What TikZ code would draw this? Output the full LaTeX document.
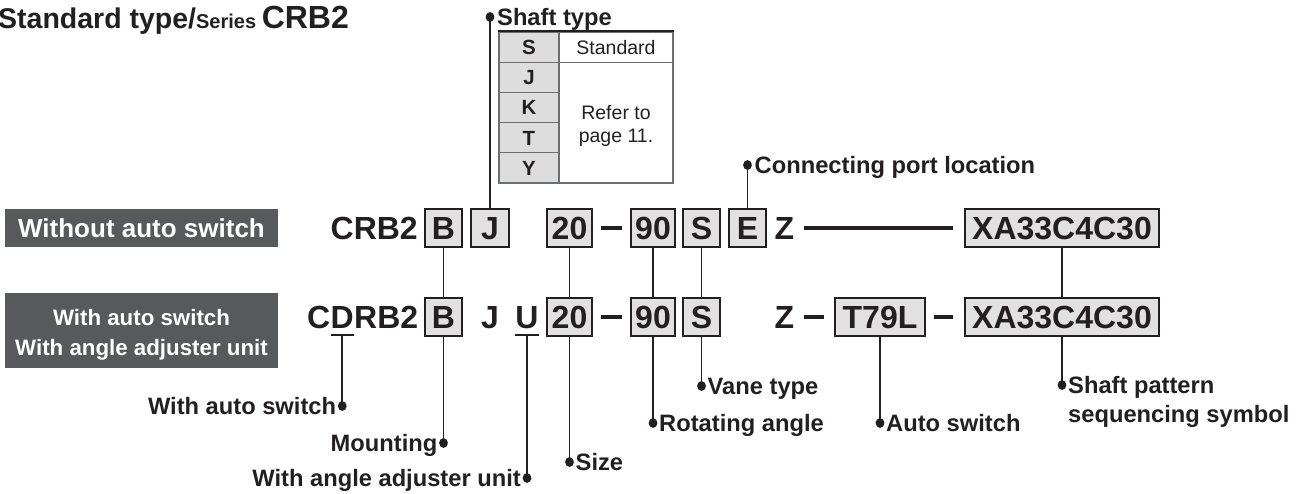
\documentclass[tikz,border=0pt]{standalone}
\usepackage{fontspec}
\setmainfont{Liberation Sans}
\definecolor{ink}{HTML}{231F20}
\definecolor{darkbox}{HTML}{58595B}
\definecolor{boxfill}{HTML}{E1E1E1}
\definecolor{tabfill}{HTML}{DDDDDD}
\definecolor{tabline}{HTML}{6D6E70}
\begin{document}
\begin{tikzpicture}[x=1pt,y=-1pt,
  code/.style={font=\fontsize{32}{36}\selectfont\bfseries, text=ink, inner sep=0pt, text height=23pt, text depth=0pt},
  cbox/.style={code, draw=ink, line width=1.6pt, fill=boxfill, minimum height=37.5pt},
  conn/.style={draw=ink, line width=1.9pt},
  bar/.style={draw=ink, line width=3.2pt},
  lab/.style={font=\fontsize{23.7}{29}\selectfont\bfseries, text=ink, inner sep=0pt, text height=17pt, text depth=0pt},
  labtwo/.style={font=\fontsize{23.7}{29}\selectfont\bfseries, text=ink, inner sep=0pt, align=left},
  tleft/.style={draw=tabline, fill=tabfill, line width=1.3pt, minimum width=60pt, minimum height=30.2pt, inner sep=0pt, font=\fontsize{20.5}{24}\selectfont\bfseries, text=ink, text height=14.7pt, text depth=0pt},
  tright/.style={draw=tabline, line width=1.3pt, minimum width=114pt, inner sep=0pt, font=\fontsize{19.5}{22}\selectfont, text=ink},
  darklab/.style={fill=darkbox, minimum width=273pt, inner sep=0pt, text=white},
  dotmark/.style={fill=ink}
]
\useasboundingbox (0,0) rectangle (1303,494);

% title
\node[anchor=base west, inner sep=0pt, text=ink, font=\bfseries] (title) at (-2,29)
  {\fontsize{28.5}{33}\selectfont Standard type/\fontsize{20}{24}\selectfont Series \fontsize{32}{36}\selectfont CRB2};

% dark labels
\node[darklab, minimum height=38pt, font=\fontsize{26}{30}\selectfont\bfseries, text height=18.6pt, text depth=0pt] (wo) at (141.5,228) {Without auto switch};
\node[darklab, minimum height=75pt, font=\fontsize{22.3}{30}\selectfont\bfseries, align=center] (wi) at (141.5,330.5) {\rule{0pt}{24pt}With auto switch\\With angle adjuster unit};

% shaft type table
\node[tleft] (tS) at (529,47.1) {S};
\node[tleft] (tJ) at (529,77.3) {J};
\node[tleft] (tK) at (529,107.5) {K};
\node[tleft] (tT) at (529,137.7) {T};
\node[tleft] (tY) at (529,167.9) {Y};
\node[tright, minimum height=30.2pt] (tStd) at (616,47.1) {Standard};
\node[tright, minimum height=120.8pt, align=center] (tRef) at (616,122.6) {\rule{0pt}{20pt}Refer to\\[1pt]page 11.};
\draw[ink, line width=1.9pt] (tS.north west) -- (tStd.north east);

% row 1
\node[code, anchor=east] (crb) at (418,228) {CRB2};
\node[cbox, minimum width=37pt] (b1) at (443.5,228) {B};
\node[cbox, minimum width=38pt] (j1) at (490,228) {J};
\node[cbox, minimum width=45pt] (n20a) at (569.5,228) {20};
\node[cbox, minimum width=44pt] (n90a) at (653,228) {90};
\node[cbox, minimum width=37pt] (sa) at (701.5,228) {S};
\node[cbox, minimum width=37pt] (ea) at (747.5,228) {E};
\node[code] (za) at (784.5,228) {Z};
\node[cbox, minimum width=194pt] (xa) at (1062,228) {XA33C4C30};
\draw[bar, shorten <=8pt, shorten >=8pt] (n20a) -- (n90a);
\draw[bar, shorten <=10pt, shorten >=11pt] (za) -- (xa);

% row 2
\node[code, anchor=west] (c2) at (307,317) {C};
\node[code, anchor=west] (d2) at (c2.east) {D};
\node[code, anchor=west] (rb2) at (d2.east) {RB2};
\node[cbox, minimum width=37pt] (b2) at (443.5,317) {B};
\node[code] (j2) at (490,317) {J};
\node[code] (u2) at (527,317) {U};
\node[cbox, minimum width=45pt] (n20b) at (569.5,317) {20};
\node[cbox, minimum width=44pt] (n90b) at (653,317) {90};
\node[cbox, minimum width=37pt] (sb) at (701.5,317) {S};
\node[code] (zb) at (784.5,317) {Z};
\node[cbox, minimum width=90pt] (t79) at (880,317) {T79L};
\node[cbox, minimum width=194pt] (xb) at (1062,317) {XA33C4C30};
\draw[bar, shorten <=8pt, shorten >=8pt] (n20b) -- (n90b);
\draw[bar, shorten <=10pt, shorten >=10pt] (zb) -- (t79);
\draw[bar, shorten <=8pt, shorten >=11pt] (t79) -- (xb);

% row connectors
\draw[conn] (b1) -- (b2);
\draw[conn] (n20a) -- (n20b);
\draw[conn] (n90a) -- (n90b);
\draw[conn] (sa) -- (sb);
\draw[conn] (xa) -- (xb);

% underlines
\draw[conn] ([yshift=-6.5pt]d2.south west) -- ([yshift=-6.5pt]d2.south east);
\draw[conn] ([yshift=-6.5pt]u2.south west) -- ([yshift=-6.5pt]u2.south east);

% leader points
\coordinate (pJ) at (j1 |- 0,17);
\coordinate (pE) at (ea |- 0,165);
\coordinate (pD) at (d2 |- 0,406);
\coordinate (pB) at (b2 |- 0,443);
\coordinate (pU) at (u2 |- 0,478);
\coordinate (p20) at (n20b |- 0,462);
\coordinate (p90) at (n90b |- 0,423);
\coordinate (pS) at (sb |- 0,386);
\coordinate (pT) at (t79 |- 0,423);
\coordinate (pX) at (xb |- 0,385);

\draw[conn] (j1) -- (pJ);
\draw[conn] (ea) -- (pE);
\draw[conn] ([yshift=-6.5pt]d2.south) -- (pD);
\draw[conn] (b2) -- (pB);
\draw[conn] ([yshift=-6.5pt]u2.south) -- (pU);
\draw[conn] (n20b) -- (p20);
\draw[conn] (n90b) -- (p90);
\draw[conn] (sb) -- (pS);
\draw[conn] (t79) -- (pT);
\draw[conn] (xb) -- (pX);

\foreach \p in {pJ,pE,pD,pB,pU,p20,p90,pS,pT,pX} \fill[dotmark] (\p) ellipse (4.4pt and 4.9pt);

% labels
\node[lab, anchor=west] (lJ) at ([xshift=7pt]pJ) {Shaft type};
\node[lab, anchor=west] (lE) at ([xshift=7pt]pE) {Connecting port location};
\node[lab, anchor=east] (lD) at ([xshift=-6pt]pD) {With auto switch};
\node[lab, anchor=east] (lB) at ([xshift=-6pt]pB) {Mounting};
\node[lab, anchor=east] (lU) at ([xshift=-6pt]pU) {With angle adjuster unit};
\node[lab, anchor=west] (l20) at ([xshift=6pt]p20) {Size};
\node[lab, anchor=west] (l90) at ([xshift=6pt]p90) {Rotating angle};
\node[lab, anchor=west] (lS) at ([xshift=6pt]pS) {Vane type};
\node[lab, anchor=west] (lT) at ([xshift=6pt]pT) {Auto switch};
\node[labtwo, anchor=west] (lX) at ([xshift=6pt,yshift=-17pt]pX) {Shaft pattern\\sequencing symbol};
\end{tikzpicture}
\end{document}
